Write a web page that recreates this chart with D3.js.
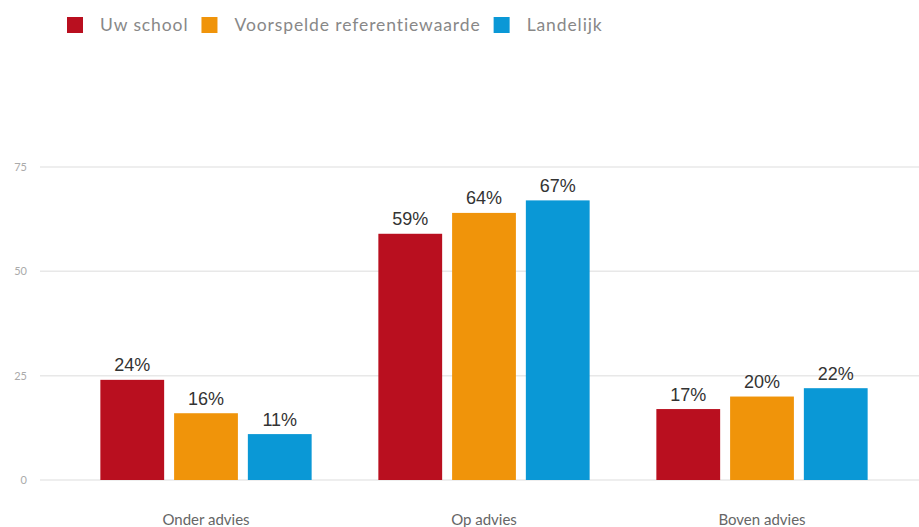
<!DOCTYPE html>
<html>
<head>
<meta charset="utf-8">
<script src="https://cdn.jsdelivr.net/npm/d3@7"></script>
<style>
    body { margin: 0; background: #fff; }
    svg { display: block; }
</style>
</head>
<body>
<div id="chart"></div>
<script>
// data
const categories = ["Onder advies", "Op advies", "Boven advies"];
const seriesNames = ["Uw school", "Voorspelde referentiewaarde", "Landelijk"];
const uwSchool = [24, 59, 17];
const referentie = [16, 64, 20];
const landelijk = [11, 67, 22];
const yTicks = [0, 25, 50, 75];
const colors = ["#b90f1f", "#f0940a", "#0a98d6"];

const W = 919, H = 527;
const MARGIN = { LEFT: 40, RIGHT: 0, TOP: 167, BOTTOM: 47 };

const svg = d3.select("#chart").append("svg")
    .attr("width", W)
    .attr("height", H);

const seriesValues = [uwSchool, referentie, landelijk];
const rows = categories.map((c, i) => ({
    cat: c,
    vals: seriesNames.map((s, j) => ({ key: s, idx: j, value: seriesValues[j][i] }))
}));

// scales
const y = d3.scaleLinear().domain([0, 75]).range([H - MARGIN.BOTTOM, MARGIN.TOP]);
const x0 = d3.scaleBand().domain(categories).range([67, 901]).paddingInner(0.24).paddingOuter(0.12);
const x1 = d3.scaleBand().domain(seriesNames).range([0, x0.bandwidth()]).paddingInner(0.135);

// grid + y labels
const grid = svg.append("g");
grid.selectAll("line").data(yTicks).join("line")
    .attr("x1", MARGIN.LEFT)
    .attr("x2", W)
    .attr("y1", d => y(d))
    .attr("y2", d => y(d))
    .attr("stroke", "#e8e8e8")
    .attr("stroke-width", 1.5);

grid.selectAll("text").data(yTicks).join("text")
    .attr("x", 27)
    .attr("y", d => y(d) + 4)
    .attr("text-anchor", "end")
    .style("font-family", "Lato, sans-serif")
    .style("font-size", "11px")
    .style("fill", "#aaa")
    .text(d => d);

// bars
const groups = svg.selectAll("g.group").data(rows).join("g")
    .attr("class", "group")
    .attr("transform", d => `translate(${x0(d.cat)},0)`);

groups.selectAll("rect").data(d => d.vals).join("rect")
    .attr("x", d => x1(d.key))
    .attr("y", d => y(d.value))
    .attr("width", x1.bandwidth())
    .attr("height", d => y(0) - y(d.value))
    .attr("fill", d => colors[d.idx]);

groups.selectAll("text").data(d => d.vals).join("text")
    .attr("x", d => x1(d.key) + x1.bandwidth() / 2)
    .attr("y", d => y(d.value) - 8.5)
    .attr("text-anchor", "middle")
    .style("font-family", "'Liberation Sans', Arial, sans-serif")
    .style("font-size", "18px")
    .style("fill", "#333")
    .text(d => d.value + "%");

// category labels
svg.selectAll("text.cat").data(categories).join("text")
    .attr("class", "cat")
    .attr("x", d => x0(d) + x0.bandwidth() / 2)
    .attr("y", 525)
    .attr("text-anchor", "middle")
    .style("font-family", "Lato, sans-serif")
    .style("font-size", "15px")
    .style("fill", "#666")
    .text(d => d);

// legend
const legend = svg.append("g").attr("transform", "translate(67,17)");
let lx = 0;
seriesNames.forEach((s, i) => {
    const item = legend.append("g").attr("transform", `translate(${lx},0)`);
    item.append("rect")
        .attr("width", 16)
        .attr("height", 16)
        .attr("fill", colors[i]);
    const t = item.append("text")
        .attr("x", 33)
        .attr("y", 14)
        .style("font-family", "Lato, sans-serif")
        .style("font-size", "17.5px")
        .style("letter-spacing", "0.9px")
        .style("fill", "#888")
        .text(s);
    lx += 33 + t.node().getComputedTextLength() + 13;
});
</script>
</body>
</html>
